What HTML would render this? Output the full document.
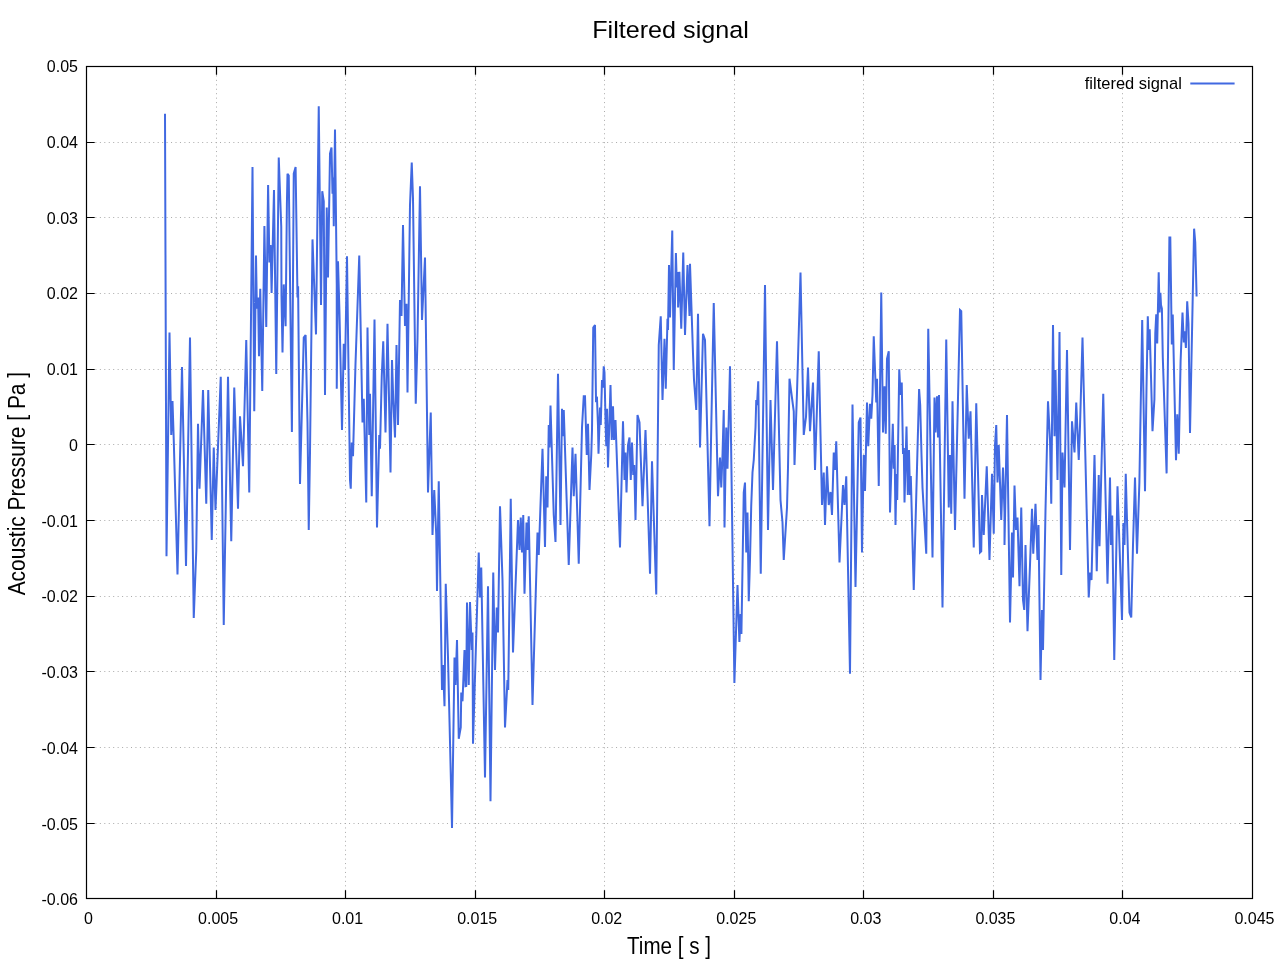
<!DOCTYPE html><html><head><meta charset="utf-8"><style>html,body{margin:0;padding:0;background:#fff;width:1280px;height:960px;overflow:hidden}svg{display:block;will-change:transform}text{font-family:"Liberation Sans",sans-serif;fill:#000}</style></head><body>
<svg width="1280" height="960" viewBox="0 0 1280 960">
<path d="M216.5 66.5V898.5M345.5 66.5V898.5M475.5 66.5V898.5M604.5 66.5V898.5M734.5 66.5V898.5M863.5 66.5V898.5M993.5 66.5V898.5M1122.5 66.5V898.5M86.5 142.5H1252.5M86.5 217.5H1252.5M86.5 293.5H1252.5M86.5 369.5H1252.5M86.5 444.5H1252.5M86.5 520.5H1252.5M86.5 596.5H1252.5M86.5 671.5H1252.5M86.5 747.5H1252.5M86.5 823.5H1252.5" stroke="#aaaaaa" stroke-width="1" stroke-dasharray="1 3.45" fill="none"/>
<path d="M216.5 898.5v-8.2M216.5 66.5v8.2M345.5 898.5v-8.2M345.5 66.5v8.2M475.5 898.5v-8.2M475.5 66.5v8.2M604.5 898.5v-8.2M604.5 66.5v8.2M734.5 898.5v-8.2M734.5 66.5v8.2M863.5 898.5v-8.2M863.5 66.5v8.2M993.5 898.5v-8.2M993.5 66.5v8.2M1122.5 898.5v-8.2M1122.5 66.5v8.2M86.5 142.5h8.2M1252.5 142.5h-8.2M86.5 217.5h8.2M1252.5 217.5h-8.2M86.5 293.5h8.2M1252.5 293.5h-8.2M86.5 369.5h8.2M1252.5 369.5h-8.2M86.5 444.5h8.2M1252.5 444.5h-8.2M86.5 520.5h8.2M1252.5 520.5h-8.2M86.5 596.5h8.2M1252.5 596.5h-8.2M86.5 671.5h8.2M1252.5 671.5h-8.2M86.5 747.5h8.2M1252.5 747.5h-8.2M86.5 823.5h8.2M1252.5 823.5h-8.2" stroke="#000" stroke-width="1.2" fill="none"/>
<rect x="86.5" y="66.5" width="1166.0" height="832.0" stroke="#000" stroke-width="1.2" fill="none"/>
<text x="78" y="72.30" font-size="16" text-anchor="end">0.05</text>
<text x="78" y="148.03" font-size="16" text-anchor="end">0.04</text>
<text x="78" y="223.75" font-size="16" text-anchor="end">0.03</text>
<text x="78" y="299.48" font-size="16" text-anchor="end">0.02</text>
<text x="78" y="375.21" font-size="16" text-anchor="end">0.01</text>
<text x="78" y="450.93" font-size="16" text-anchor="end">0</text>
<text x="78" y="526.66" font-size="16" text-anchor="end">-0.01</text>
<text x="78" y="602.38" font-size="16" text-anchor="end">-0.02</text>
<text x="78" y="678.11" font-size="16" text-anchor="end">-0.03</text>
<text x="78" y="753.84" font-size="16" text-anchor="end">-0.04</text>
<text x="78" y="829.56" font-size="16" text-anchor="end">-0.05</text>
<text x="78" y="905.29" font-size="16" text-anchor="end">-0.06</text>
<text x="88.5" y="924" font-size="16" text-anchor="middle">0</text>
<text x="218.1" y="924" font-size="16" text-anchor="middle">0.005</text>
<text x="347.6" y="924" font-size="16" text-anchor="middle">0.01</text>
<text x="477.2" y="924" font-size="16" text-anchor="middle">0.015</text>
<text x="606.7" y="924" font-size="16" text-anchor="middle">0.02</text>
<text x="736.3" y="924" font-size="16" text-anchor="middle">0.025</text>
<text x="865.8" y="924" font-size="16" text-anchor="middle">0.03</text>
<text x="995.4" y="924" font-size="16" text-anchor="middle">0.035</text>
<text x="1124.9" y="924" font-size="16" text-anchor="middle">0.04</text>
<text x="1254.5" y="924" font-size="16" text-anchor="middle">0.045</text>
<text x="670.5" y="37.8" font-size="24.5" text-anchor="middle" textLength="156.5" lengthAdjust="spacingAndGlyphs">Filtered signal</text>
<text x="669" y="953.9" font-size="23.3" text-anchor="middle" textLength="84" lengthAdjust="spacingAndGlyphs">Time [ s ]</text>
<text transform="translate(24.8,483.6) rotate(-90)" font-size="23" text-anchor="middle" textLength="223.5" lengthAdjust="spacingAndGlyphs">Acoustic Pressure [ Pa ]</text>
<text x="1084.8" y="88.75" font-size="17" textLength="97" lengthAdjust="spacingAndGlyphs">filtered signal</text>
<path d="M1190.3 83.5H1234.6" stroke="#4169e1" stroke-width="2" fill="none"/>
<path d="M165 113.75 166.5 556.25 169.5 332.5 171.25 435 172.5 401 173.75 440 177.5 574.5 182 367 186 566 190 337.5 193.75 618 196.25 551 198 423.75 199.5 488.75 203 390 206.25 503.75 208.25 390 211.75 540 213.75 447.5 215.5 510 220.75 376.75 223.75 625 228 376.75 231.25 541.25 234.25 387.5 238 508.75 240 416.25 243 466.25 246.25 340 249.25 492.5 252.5 167 254.25 411.25 256 255.6 256.9 308.75 258.1 297.5 259 356.25 260.25 288.75 262.25 391 264.4 226 266.25 327 268.1 185 269.4 262.5 270.6 245 271.6 293 274 190 276.25 374 278.75 157.5 281.25 227 281.5 296 282.5 352.5 283.75 284.4 285.6 326.25 286.9 203.75 287.5 173.75 288.75 175.6 291.9 432 293.75 173.75 295.6 166.9 297.5 297.5 298.1 286.25 300 484 303.75 337.5 305.6 335 307.5 422.5 308.75 530 310 452.5 312.5 239.4 316 334.4 318.75 106.25 321 305 322.25 191.25 323.75 201.25 325 395 326.75 207.5 328 277.5 330 153.75 331.5 147.5 332.5 193.75 333.25 177.5 333.75 226.25 335 129.5 336.75 285 336.75 388.75 338 261.25 339.5 313.75 342 430 343.75 343.75 345 370 347 256.25 350 480 350.75 488.75 351.75 442.5 353 456.25 355.5 363.75 359.25 255.5 362.5 422.5 363.75 398.75 366.25 502.5 367.5 327.5 369.25 435 370 393.75 371.75 496.25 374.5 319.5 377 527.5 379.25 435 380 448.75 381.75 376.25 383.25 341.25 385.5 432.5 387.5 323.75 390.5 472.5 392 360 393.25 400 395 437.5 396.5 345 398 425 400 300 401.5 316 403 225 405 326 406.5 303.75 407.5 392.5 410 205 411.75 162.5 413 198.75 415.75 403.75 417.5 338.75 420 186.25 422 320 425 257.5 428 492.5 430.75 412.5 432.5 535 434.25 490 436.25 535 437 591 438.75 481.25 442 690 443 665 444.5 706.25 445.75 583.75 448 657.5 451.25 795 452 828 454.5 657.5 455.5 685 457 640 458.75 738.75 460.75 727.5 461.25 692.5 462.5 701.25 464.5 650 465.5 686.25 466.25 686 467 602.5 468.75 685 470 602 471.75 650 472.5 632.5 473 743.75 478.75 552.5 480 597.5 481.25 567.5 485 777.5 488 586.25 490.5 801.25 493.25 572.5 495 670 496.75 607.5 498 632.5 500 506.25 502.5 580 505 727.5 507.5 680 508.25 690 510.75 498.75 513 652.5 518 520 519.5 550 520.75 517.5 522 552.5 523.25 515 524.5 593.75 526.5 522.5 527.5 550 528.75 516.25 532.5 705 537.5 532.5 538.75 555 542.5 448.75 545 547 546.25 476.25 547.5 507.5 548.75 425 549.5 447.5 550.5 405.5 553.75 515 555.5 542 558 373.75 560.5 525 562 408.75 563 436.25 563.75 410 568.75 565 572.5 447.5 573.75 496.25 575.5 453.75 578.75 563.75 582 427.5 583.75 396.25 585 396.25 586.75 455 588 423.75 589.5 490 591.25 455 592 430 593.25 327.5 595 325 596 400 597 398.75 598 426 598.5 453.75 600 407.5 600.75 425 602 380 603 387.5 603.75 366.25 604.5 372.5 605.5 420 606.25 446.25 607 408.75 608 467.5 610.5 385 611.75 440 613 406.25 614 440 615.5 420 620 547.5 623 421.25 624.5 480 625.5 452.5 626.5 492.5 628 445 629.5 437.5 630.75 480 632 442.5 633.25 475 634.25 465 635.5 520 637.5 415 639.5 422.5 642.5 506.25 645.5 430 650 573.75 652 461.25 656.25 594.5 658.75 345 660.75 316.25 662.5 400 664.5 338.75 665.75 388.75 667.5 318.75 668 330 669 265 670 317.5 672.25 230.6 673.75 370 675.9 253.1 676.9 287.5 677.9 271.9 678.1 307.5 679.4 271.9 681.25 328.75 683.25 252.5 685 335 687.5 265 689.5 316 690 263.75 693 353.75 694 380 696.25 410 698 313.75 700 447.5 703 333.75 705 340 709.5 526.25 709.5 526.25 711.25 427.5 713.75 303 718 496.25 720 457.5 721.25 487.5 722.5 455 723.75 410 724.5 527.5 726.25 427.5 727.5 468.75 730 366.25 734.4 683 737.5 585 739.4 642 740.6 614 741.4 634 743.75 492.5 745 482.5 746.25 552.5 747.5 512.5 748.75 601.25 750 560 751.25 505 752.5 472.5 753.75 460 755.5 427.5 756.25 400 757 405 758.25 381.25 758.25 381.25 760.75 573.75 765 285 768 530 770.5 400 773 490 777 341.25 780.5 500 782.5 522.5 783.75 560 787 507.5 788 467.5 789.5 378.75 793.75 411.25 794.5 465 797 392.5 800.5 272.5 803.75 435 806 417 808 367.5 810 431.25 813 382.5 815 470 818.75 351.25 822 505 823.75 472.5 825 525 827 466.25 828.75 505 830.5 492 832 515 833.75 452.5 835 470 836.25 441.25 839.5 562.5 843 485 844.5 505 846.25 476.25 850 673.75 852.5 404.5 855.5 587 858.75 422.5 860.5 417.5 862 552.5 863.75 455 865 491 867 402.5 868.25 446.25 870 403.75 871.25 418.75 872.5 395 873.75 336.25 876.25 402.5 877 378.75 878.75 486 881.25 292.5 883 432.5 884.5 386.25 885.75 433.75 887 358.75 888.75 351.25 890 512.5 892.8 423.75 893.75 468.75 894.6 445 895.5 525 896.5 474 897.2 500 899.25 369.25 900.5 395 901.75 382.5 903 454 903.8 448 904.5 502.5 906.5 426.5 907.8 495 909 450 910 495 910.8 476 913.75 590 919.1 389 920.2 405 921.5 455 922.5 487.5 926.25 553.75 928.25 328.75 932.5 557.5 934.5 397.5 935.5 432.5 937 396.25 938 437.5 939 395 942.5 607.5 946.25 339.5 948.75 507.5 950 455 951.25 513.75 952.5 401.25 955 530 960 310 961.25 311.25 964.5 498.75 966.75 385 968.75 438.75 970.5 411.25 973.75 547.5 976.25 403.25 980 552.5 981.25 551.25 982 495 983.75 535 986.75 466.25 989.5 560 992 473.75 993.75 533.75 995 445 996.25 425 997.5 482.5 998.75 445 1001.25 520 1003 467.5 1004.5 512.5 1004.5 545 1007 415 1010 622.5 1012 532.5 1013 577.5 1014.5 485.5 1016 530 1017.5 517.5 1019.5 586.25 1021.25 507.5 1023 600 1024.25 610 1025.5 545 1027.5 631.25 1030 565 1032 508.75 1033.25 553.75 1035.5 503.75 1037.5 560 1038.5 525 1040.5 680 1042 610 1043 650 1045.5 510 1048 401.25 1050 440 1051.25 503.75 1053 325 1054.5 436.25 1055.5 370 1057.5 480 1059.5 332 1061.25 575 1062.5 452.5 1064.5 487.5 1067 350 1070 550 1072 421.25 1074.5 452.5 1076.25 402.5 1078.75 460 1080 426.25 1082.5 337.5 1088.75 597.5 1090 572.5 1091.5 580 1094.5 455 1096.75 571.25 1098.75 475 1099.5 546.25 1103.25 393.75 1107.5 583.75 1110 477.5 1111 545 1112.2 515.6 1114.25 660 1117.5 486.25 1122 620 1123.4 523 1124.5 545 1125.75 473.75 1129.5 612.5 1131.25 617.5 1133 545 1135 477.5 1137 553.75 1139.4 482 1142.2 320 1145 491.25 1146.5 388 1147.8 316.25 1148.75 350 1149.7 329.4 1152.5 431.25 1154.4 399.4 1155.3 333 1156.25 314.4 1157.2 343.4 1158.7 272.2 1159.6 312.5 1160.4 292.8 1161 305 1161.9 308.75 1162.8 357.5 1166.6 473.4 1169.4 237.5 1170.3 237.5 1171.8 344.4 1172.75 314.4 1176 460.3 1177.25 414.4 1178.75 453.75 1180.6 361.25 1182.5 312.5 1183.8 342.5 1184.75 331.25 1185.9 348 1187.2 301.25 1188.5 323.75 1190 433.1 1194.1 228.7 1195.25 242.2 1196.6 296.6" stroke="#4169e1" stroke-width="2" fill="none" stroke-linejoin="miter" stroke-miterlimit="3"/>
</svg></body></html>
